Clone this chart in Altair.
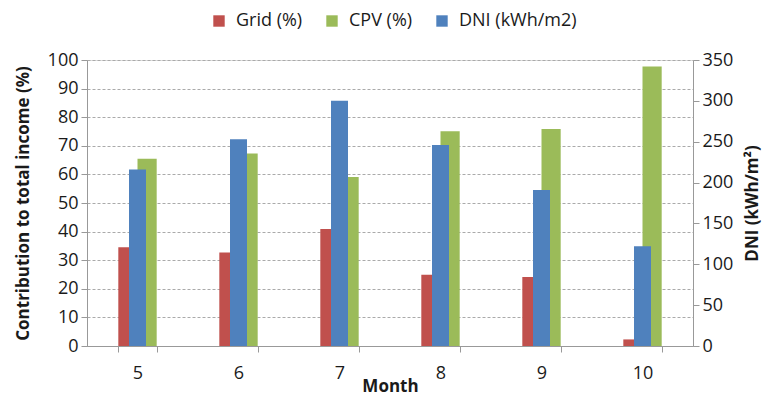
import altair as alt
import pandas as pd

months = [5, 6, 7, 8, 9, 10]
grid_pct = [34.5, 32.7, 40.9, 24.9, 24.1, 2.3]
cpv_pct = [65.5, 67.3, 59.1, 75.1, 75.9, 97.7]
dni_kwh = [216, 253, 300, 246, 191, 122]

series_names = ["Grid (%)", "CPV (%)", "DNI (kWh/m2)"]
series_colors = ["#C0504D", "#9BBB59", "#4F81BD"]

rows = []
for m, g, c in zip(months, grid_pct, cpv_pct):
    rows.append({"month": m, "series": "Grid (%)", "value": g})
    rows.append({"month": m, "series": "CPV (%)", "value": c})
pct_df = pd.DataFrame(rows)
dni_df = pd.DataFrame({"month": months, "series": "DNI (kWh/m2)", "value": dni_kwh})

FONT = "Open Sans"
TXT = "#1a1a1a"
LBL = 18
TTL = 17

color = alt.Color(
    "series:N",
    scale=alt.Scale(domain=series_names, range=series_colors),
    legend=alt.Legend(
        title=None, orient="none", direction="horizontal",
        legendX=123, legendY=-48, symbolType="square", symbolSize=130,
        symbolStrokeWidth=0, labelFontSize=LBL, labelFont=FONT,
        labelColor=TXT, columnPadding=20, labelLimit=400, labelOffset=8,
    ),
)

xenc = alt.X(
    "month:O",
    scale=alt.Scale(paddingInner=0.62, paddingOuter=0.31),
    axis=alt.Axis(
        title="Month", labelAngle=0, tickBand="extent", labelFontSize=LBL,
        labelFont=FONT, titleFont=FONT, titleFontSize=TTL, titleFontWeight="bold",
        titleColor=TXT, labelColor=TXT, domainColor="#999999",
        tickColor="#999999", tickSize=6, labelPadding=12,
        titleY=40, titleBaseline="middle",
    ),
)

bars = alt.Chart(pct_df).mark_bar().encode(
    x=xenc,
    xOffset=alt.XOffset("series:N", sort=["Grid (%)", "CPV (%)"],
                        scale=alt.Scale(paddingInner=0, paddingOuter=0)),
    y=alt.Y(
        "value:Q",
        scale=alt.Scale(domain=[0, 100], nice=False),
        axis=alt.Axis(
            title="Contribution to total income (%)", values=list(range(0, 101, 10)),
            grid=True, gridDash=[3, 2], gridColor="#aaaaaa", labelFontSize=LBL,
            labelFont=FONT, titleFont=FONT, titleFontSize=TTL, titleFontWeight="bold",
            titleColor=TXT, labelColor=TXT, domainColor="#999999",
            tickColor="#999999", tickSize=6, labelPadding=3,
            titleX=-64, titleY=143, titleAngle=270, titleAlign="center",
            titleBaseline="middle",
        ),
    ),
    color=color,
)

dni = alt.Chart(dni_df).mark_bar(width=17).encode(
    x=xenc,
    y=alt.Y(
        "value:Q",
        scale=alt.Scale(domain=[0, 350], nice=False),
        axis=alt.Axis(
            title="DNI (kWh/m²)", orient="right", values=list(range(0, 351, 50)),
            grid=False, labelFontSize=LBL, labelFont=FONT, titleFont=FONT,
            titleFontSize=TTL, titleFontWeight="bold", titleColor=TXT,
            labelColor=TXT, domainColor="#999999", tickColor="#999999",
            tickSize=6, labelPadding=3,
            titleX=59, titleY=143, titleAngle=270, titleAlign="center",
            titleBaseline="middle",
        ),
    ),
    color=color,
)

chart = (
    alt.layer(bars, dni)
    .resolve_scale(y="independent")
    .properties(
        width=606, height=286,
        autosize=alt.AutoSizeParams(type="none"),
        padding={"left": 79, "top": 52, "right": 70, "bottom": 51},
    )
    .configure_view(stroke=None)
    .configure(background="white")
)

chart.save("out.html", embed_options={"renderer": "svg", "actions": False})
